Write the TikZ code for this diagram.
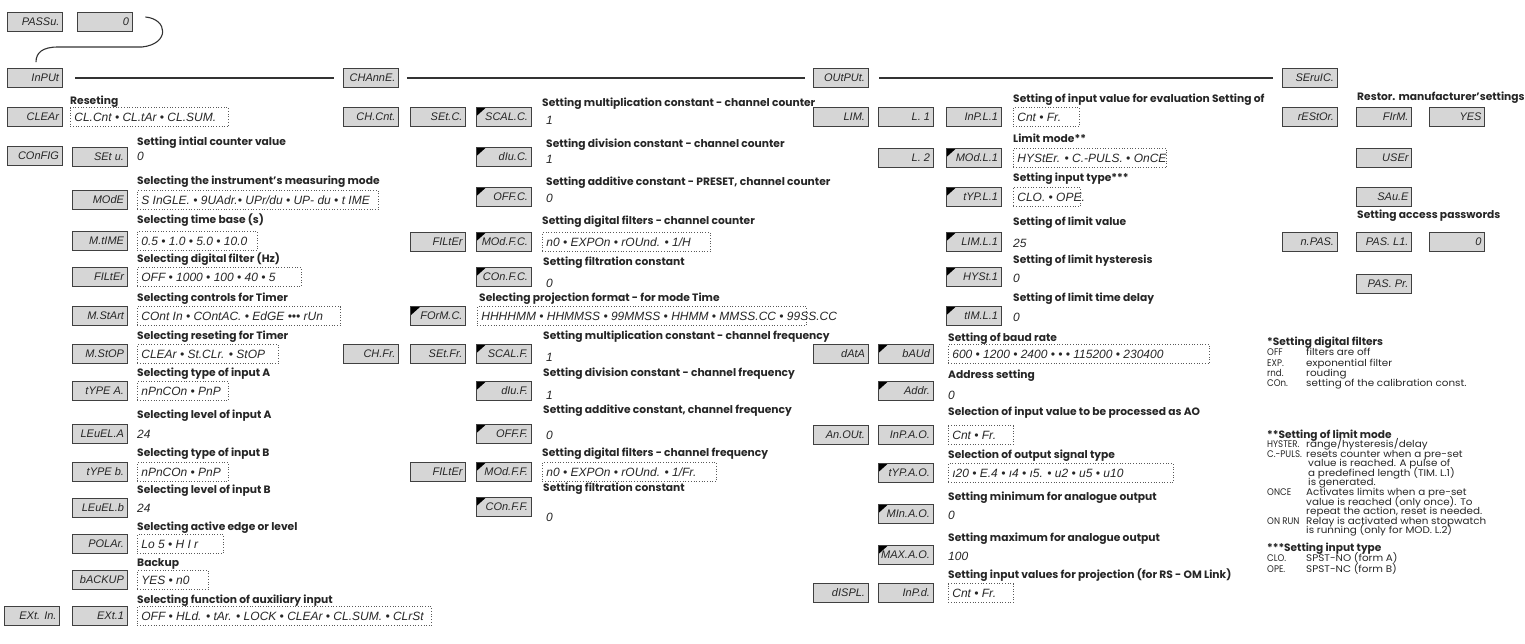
\documentclass[tikz,border=0pt]{standalone}
\usepackage{fontspec}
\usetikzlibrary{calc}
\newfontfamily\lblfam{Poppins}
\newfontfamily\notefam{Poppins}[FakeStretch=1.08]
\newfontfamily\notekeyfam{Poppins}[FakeStretch=0.9]
\newfontfamily\segfam{Liberation Sans}
\definecolor{boxfill}{gray}{0.84}
\definecolor{boxline}{gray}{0.25}
\definecolor{segcol}{gray}{0.15}
\definecolor{txtcol}{gray}{0.15}
\newcommand\segf{\segfam\itshape\fontsize{12}{12}\selectfont}
\newcommand\segb{\segfam\itshape\fontsize{11}{11}\selectfont}
\newcommand\lblf{\lblfam\bfseries\fontsize{10.7}{11}\selectfont}
\newcommand\notef{\notefam\fontsize{9.6}{10}\selectfont}
\newcommand\notek{\notekeyfam\fontsize{9.6}{10}\selectfont}
\newcommand\noteb{\lblfam\bfseries\fontsize{10.6}{11}\selectfont}
\tikzset{
  disp/.style={draw=boxline, line width=0.8pt, fill=boxfill, minimum height=19pt,
    inner xsep=3pt, inner ysep=0pt, font=\segb,
    text=segcol, text height=7.9pt, text depth=0pt},
  flag/.style={path picture={\fill[black] (path picture bounding box.north west) -- ++(10pt,0pt) -- ++(-10pt,-9pt) -- cycle;}},
  opts/.style={draw=black!65, dotted, line width=0.7pt, minimum height=19pt, anchor=west,
    inner xsep=4pt, inner ysep=0pt, font=\segf, text=segcol,
    text height=8.6pt, text depth=0pt},
  val/.style={anchor=west, inner sep=0pt, font=\segf, text=segcol, text height=8.6pt, text depth=0pt},
  lbl/.style={anchor=west, inner sep=0pt, font=\lblf, text=txtcol, text height=7.4pt, text depth=0pt},
  note/.style={anchor=west, inner sep=0pt, font=\notef, text=txtcol, text height=6.7pt, text depth=0pt},
  notekey/.style={note, font=\notek},
  noteh/.style={note, font=\noteb},
  conn/.style={draw=black!80, line width=1.1pt},
}
\newcommand\bx[5][]{\node[disp,#1] (#2) at (#3,#4) {\makebox[49pt][r]{#5}};}
\newcommand\op[5]{\node[opts] (#1) at (#2,#3) {\makebox[#4pt][l]{#5}};}
\newcommand\vl[4]{\node[val] (#1) at (#2,#3) {#4};}
\newcommand\lb[4]{\node[lbl] (#1) at (#2,#3) {#4};}
\begin{document}
\begin{tikzpicture}[x=1pt,y=-1pt]
\useasboundingbox (0,0) rectangle (1525,643);
% header
\bx{pass}{35}{21.5}{PASSu.}
\bx{pass0}{104.5}{21.5}{0}
\bx{input}{34.5}{78}{InPUt}
\bx{chan}{371}{78}{CHAnnE.}
\bx{outp}{840.5}{78}{OUtPUt.}
\bx{serv}{1309.5}{78}{SEruIC.}
\draw[conn] ([xshift=13pt]input.east) -- ([xshift=-9pt]chan.west);
\draw[conn] ([xshift=8pt]chan.east) -- ([xshift=-8pt]outp.west);
\draw[conn] ([xshift=11pt]outp.east) -- ([xshift=-9pt]serv.west);
\draw[conn] ($(pass0.east)+(13,-4.5)$) .. controls (168,19) and (170,44) .. (142,47)
  -- (58,47) .. controls (42,47) and (36,53) .. ($(input.north)+(1.5,-6)$);
% left column
\bx{clear}{34.5}{117}{CLEAr}
\bx{config}{34.5}{156}{COnFIG}
\bx{extin}{32}{616}{EXt. In.}
\bx{setu}{99.5}{157}{SEt u.}
\bx{mode}{99.5}{200}{MOdE}
\bx{mtime}{99.5}{241}{M.tIME}
\bx{filt}{99.5}{277}{FILtEr}
\bx{mstart}{99.5}{316}{M.StArt}
\bx{mstop}{99.5}{354}{M.StOP}
\bx{typea}{99.5}{391}{tYPE A.}
\bx{levela}{99.5}{434}{LEuEL.A}
\bx{typeb}{99.5}{472}{tYPE b.}
\bx{levelb}{99.5}{508}{LEuEL.b}
\bx{polar}{99.5}{544}{POLAr.}
\bx{backup}{99.5}{580}{bACKUP}
\bx{ext1}{99.5}{616}{EXt.1}
\lb{t1}{70}{101}{Reseting}
\op{oclear}{70}{117}{150}{CL.Cnt • CL.tAr • CL.SUM.}
\lb{t2}{137}{142}{Setting intial counter value}
\vl{v1}{137}{156}{0}
\lb{t3}{137}{181}{Selecting the instrument’s measuring mode}
\op{omode}{137}{200}{233}{S InGLE. • 9UAdr.• UPr/du • UP- du • t IME}
\lb{t4}{137}{220}{Selecting time base (s)}
\op{otime}{137}{241}{112}{0.5 • 1.0 • 5.0 • 10.0}
\lb{t5}{137}{259}{Selecting digital filter (Hz)}
\op{ofilt}{137}{277}{156}{OFF • 1000 • 100 • 40 • 5}
\lb{t6}{137}{298}{Selecting controls for Timer}
\op{ostart}{137}{316}{195}{COnt In • COntAC. • EdGE ••• rUn}
\lb{t7}{137}{336}{Selecting reseting for Timer}
\op{ostop}{137}{354}{133}{CLEAr • St.CLr. • StOP}
\lb{t8}{137}{373}{Selecting type of input A}
\op{otypea}{137}{391}{83}{nPnCOn • PnP}
\lb{t9}{137}{415}{Selecting level of input A}
\vl{v2}{137}{434}{24}
\lb{t10}{137}{453}{Selecting type of input B}
\op{otypeb}{137}{472}{83}{nPnCOn • PnP}
\lb{t11}{137}{490}{Selecting level of input B}
\vl{v3}{137}{508}{24}
\lb{t12}{137}{527}{Selecting active edge or level}
\op{opol}{137}{544}{78}{Lo 5 • H I r}
\lb{t13}{137}{563}{Backup}
\op{oback}{137}{580}{63}{YES • n0}
\lb{t14}{137}{600}{Selecting function of auxiliary input}
\op{oext}{137}{616}{286}{OFF • HLd. • tAr. • LOCK • CLEAr • CL.SUM. • CLrSt}
% channel column
\bx{chcnt}{371}{117}{CH.Cnt.}
\bx{chfr}{371}{354}{CH.Fr.}
\bx{setc}{438}{117}{SEt.C.}
\bx{filtc}{438}{242}{FILtEr}
\bx[flag]{formc}{438}{316}{FOrM.C.}
\bx{setfr}{438}{354}{SEt.Fr.}
\bx{filtf}{438}{472}{FILtEr}
\bx[flag]{scalc}{503.5}{117}{SCAL.C.}
\bx[flag]{divc}{503.5}{157}{dIu.C.}
\bx[flag]{offc}{503.5}{197}{OFF.C.}
\bx[flag]{modfc}{503.5}{242}{MOd.F.C.}
\bx[flag]{confc}{503.5}{277}{COn.F.C.}
\bx[flag]{scalf}{503.5}{354}{SCAL.F.}
\bx[flag]{divf}{503.5}{391}{dIu.F.}
\bx[flag]{offf}{503.5}{434}{OFF.F.}
\bx[flag]{modff}{503.5}{472}{MOd.F.F.}
\bx[flag]{conff}{503.5}{507}{COn.F.F.}
\lb{m1}{542}{103}{Setting multiplication constant - channel counter}
\vl{mv1}{546}{120}{1}
\lb{m2}{546}{144}{Setting division constant - channel counter}
\vl{mv2}{546}{159}{1}
\lb{m3}{546}{182}{Setting additive constant - PRESET, channel counter}
\vl{mv3}{546}{198}{0}
\lb{m4}{542}{221}{Setting digital filters - channel counter}
\op{omodfc}{542}{242}{160}{n0 • EXPOn • rOUnd. • 1/H}
\lb{m5}{543}{262}{Setting filtration constant}
\vl{mv4}{546}{283}{0}
\lb{m6}{479}{298}{Selecting projection format - for mode Time}
\op{oform}{477}{316}{321}{HHHHMM • HHMMSS • 99MMSS • HHMM • MMSS.CC • 99SS.CC}
\lb{m7}{543}{336}{Setting multiplication constant - channel frequency}
\vl{mv5}{546}{357}{1}
\lb{m8}{543}{373}{Setting division constant - channel frequency}
\vl{mv6}{546}{395}{1}
\lb{m9}{543}{410}{Setting additive constant,  channel frequency}
\vl{mv7}{546}{435}{0}
\lb{m10}{542}{453}{Setting digital filters - channel frequency}
\op{omodff}{542}{472}{166}{n0 • EXPOn • rOUnd. • 1/Fr.}
\lb{m11}{543}{488}{Setting filtration constant}
\vl{mv8}{546}{517}{0}
% output column
\bx{lin}{840.5}{117}{LIM.}
\bx{data}{840.5}{354}{dAtA}
\bx{anout}{840.5}{435}{An.OUt.}
\bx{displ}{840.5}{593}{dISPL.}
\bx{l1}{905.5}{117}{L. 1}
\bx{l2}{905.5}{158}{L. 2}
\bx[flag]{baud}{905.5}{354}{bAUd}
\bx[flag]{addr}{905.5}{391}{Addr.}
\bx{inpao}{905.5}{435}{InP.A.O.}
\bx[flag]{typao}{905.5}{473}{tYP.A.O.}
\bx[flag]{minao}{905.5}{514}{MIn.A.O.}
\bx[flag]{maxao}{905.5}{555}{MAX.A.O.}
\bx{inpd}{905.5}{593}{InP.d.}
\bx{inpl1}{973.5}{117}{InP.L.1}
\bx[flag]{modl1}{973.5}{158}{MOd.L.1}
\bx[flag]{typl1}{973.5}{197}{tYP.L.1}
\bx[flag]{liml1}{973.5}{242}{LIM.L.1}
\bx[flag]{hyst1}{973.5}{277}{HYSt.1}
\bx[flag]{timl1}{973.5}{316}{tIM.L.1}
\lb{o1}{1013}{99}{Setting of input value for evaluation Setting of}
\op{oinpl}{1013}{117}{58}{Cnt • Fr.}
\lb{o2}{1013}{139}{Limit mode**}
\op{omodl}{1013}{158}{145}{HYStEr. • C.-PULS. • OnCE}
\lb{o3}{1013}{178}{Setting input type***}
\op{otypl}{1013}{197}{59}{CLO. • OPE.}
\lb{o4}{1013}{222}{Setting of limit value}
\vl{ov1}{1013}{243}{25}
\lb{o5}{1013}{260}{Setting of limit hysteresis}
\vl{ov2}{1013}{278}{0}
\lb{o6}{1013}{298}{Setting of limit time delay}
\vl{ov3}{1013}{317}{0}
\lb{o7}{948}{338}{Setting of baud rate}
\op{obaud}{948}{354}{253}{600 • 1200 • 2400 • • • 115200 • 230400}
\lb{o8}{948}{375}{Address setting}
\vl{ov4}{948}{395}{0}
\lb{o9}{948}{412}{Selection of input value to be processed as AO}
\op{oinpa}{948}{435}{57}{Cnt • Fr.}
\lb{o10}{948}{455}{Selection of output signal type}
\op{otypa}{948}{473}{217}{ı20 • E.4 • ı4 • ı5. • u2 • u5 • u10}
\lb{o11}{948}{497}{Setting minimum for analogue output}
\vl{ov5}{948}{515}{0}
\lb{o12}{948}{538}{Setting maximum for analogue output}
\vl{ov6}{948}{556}{100}
\lb{o13}{948}{575}{Setting input values for projection (for RS - OM Link)}
\op{oinpd}{948}{593}{57}{Cnt • Fr.}
% service column
\bx{restor}{1309.5}{117}{rEStOr.}
\bx{npas}{1309.5}{242}{n.PAS.}
\bx{firm}{1384}{117}{FIrM.}
\bx{user}{1384}{158}{USEr}
\bx{save}{1384}{197}{SAu.E}
\bx{pasl1}{1384}{242}{PAS. L1.}
\bx{paspr}{1384}{284}{PAS. Pr.}
\bx{yes}{1457}{117}{YES}
\bx{paszero}{1457}{242}{0}
\lb{s1}{1357}{97}{Restor. manufacturer’settings}
\lb{s2}{1357}{215}{Setting access passwords}
% notes
\node[noteh] (n1) at (1267,342) {*Setting digital filters};
\node[notekey] (n2) at (1267,352) {OFF};
\node[note] (n3) at (1306,352) {filters are off};
\node[notekey] (n4) at (1267,363) {EXP.};
\node[note] (n5) at (1306,363) {exponential filter};
\node[notekey] (n6) at (1267,373) {rnd.};
\node[note] (n7) at (1306,373) {rouding};
\node[notekey] (n8) at (1267,383) {COn.};
\node[note] (n9) at (1306,383) {setting of the calibration const.};
\node[noteh] (n10) at (1267,435) {**Setting of limit mode};
\node[notekey] (n11) at (1267,444) {HYSTER.};
\node[note] (n12) at (1306,444) {range/hysteresis/delay};
\node[notekey] (n13) at (1267,454) {C.-PULS.};
\node[note] (n14) at (1306,454) {resets counter when a pre-set};
\node[note] (n15) at (1308,463) {value is reached. A pulse of};
\node[note] (n16) at (1308,473) {a predefined length (TIM. L.1)};
\node[note] (n17) at (1308,482) {is generated.};
\node[notekey] (n18) at (1267,492) {ONCE};
\node[note] (n19) at (1306,492) {Activates limits when a pre-set};
\node[note] (n20) at (1306,502) {value is reached (only once). To};
\node[note] (n21) at (1306,511) {repeat the action, reset is needed.};
\node[notekey] (n22) at (1267,521) {ON RUN};
\node[note] (n23) at (1306,521) {Relay is activated when stopwatch};
\node[note] (n24) at (1306,530) {is running (only for MOD. L.2)};
\node[noteh] (n25) at (1267,548) {***Setting input type};
\node[notekey] (n26) at (1267,558) {CLO.};
\node[note] (n27) at (1306,558) {SPST-NO (form A)};
\node[notekey] (n28) at (1267,569) {OPE.};
\node[note] (n29) at (1306,569) {SPST-NC (form B)};
\end{tikzpicture}
\end{document}
